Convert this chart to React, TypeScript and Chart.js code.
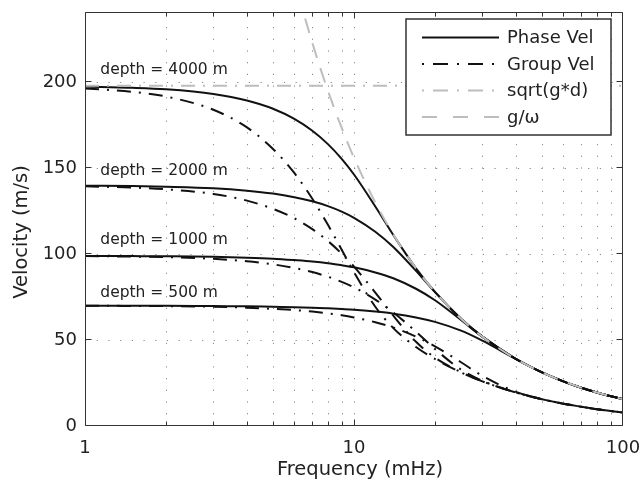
import { useEffect, useRef } from 'react';
import { Chart, registerables } from 'chart.js';

Chart.register(...registerables);

// ---------------- data ----------------
const freqMHz = [1, 1.5, 2, 3, 4, 5, 6, 7, 8, 9, 10, 12, 14, 17, 20, 25, 30, 40, 50, 60, 70, 80, 100];

const phase4000 = [197.6, 196.9, 196.0, 193.3, 189.5, 184.7, 178.8, 171.9, 164.1, 155.5, 146.4, 127.8, 111.2, 91.8, 78.1, 62.4, 52.0, 39.0, 31.2, 26.0, 22.3, 19.5, 15.6];
const group4000 = [196.5, 194.5, 191.8, 184.1, 173.8, 161.3, 147.3, 132.3, 117.1, 102.6, 89.5, 69.4, 57.0, 46.0, 39.0, 31.2, 26.0, 19.5, 15.6, 13.0, 11.2, 9.8, 7.8];
const phase2000 = [139.9, 139.7, 139.3, 138.4, 137.0, 135.3, 133.2, 130.8, 128.0, 124.8, 121.2, 113.1, 104.2, 90.3, 77.9, 62.4, 52.0, 39.0, 31.2, 26.0, 22.3, 19.5, 15.6];
const group2000 = [139.5, 138.8, 137.8, 135.1, 131.2, 126.4, 120.9, 114.6, 107.7, 100.3, 92.8, 77.7, 64.2, 49.0, 39.8, 31.3, 26.0, 19.5, 15.6, 13.0, 11.2, 9.8, 7.8];
const phase1000 = [99.0, 98.9, 98.8, 98.5, 98.0, 97.4, 96.6, 95.8, 94.8, 93.6, 92.4, 89.4, 86.0, 79.9, 73.2, 61.7, 52.0, 39.0, 31.2, 26.0, 22.3, 19.5, 15.6];
const group1000 = [98.9, 98.6, 98.3, 97.3, 95.9, 94.1, 92.0, 89.6, 86.9, 83.9, 80.7, 73.6, 66.1, 54.9, 44.8, 32.8, 26.3, 19.5, 15.6, 13.0, 11.2, 9.8, 7.8];
const phase500 = [70.0, 70.0, 70.0, 69.8, 69.7, 69.4, 69.2, 68.9, 68.5, 68.1, 67.7, 66.6, 65.4, 63.2, 60.6, 55.5, 49.7, 39.0, 31.2, 26.0, 22.3, 19.5, 15.6];
const group500 = [70.0, 69.9, 69.8, 69.4, 68.9, 68.2, 67.5, 66.6, 65.6, 64.5, 63.2, 60.4, 57.3, 52.0, 46.4, 37.1, 29.2, 19.9, 15.6, 13.0, 11.2, 9.8, 7.8];

const gOverOmega = [1561, 1041, 780.7, 520.4, 390.3, 312.2, 260.2, 223.0, 195.2, 173.5, 156.1, 130.1, 111.5, 91.8, 78.1, 62.4, 52.0, 39.0, 31.2, 26.0, 22.3, 19.5, 15.6];

const sqrtGdFreq = [1, 100];
const sqrtGd4000 = [198.1, 198.1];

const xTickValues = [1, 2, 3, 4, 5, 6, 7, 8, 9, 10, 20, 30, 40, 50, 60, 70, 80, 90, 100];
const xTickLabels = [1, 10, 100];
const yTickValues = [0, 50, 100, 150, 200];
const yMin = 0;
const yMax = 241;

const depthLabels = ['depth = 4000 m', 'depth = 2000 m', 'depth = 1000 m', 'depth = 500 m'];
const depthLabelFreq = [1.14, 1.14, 1.14, 1.14];
const depthLabelVel = [205, 146, 106, 75];

const legendLabels = ['Phase Vel', 'Group Vel', 'sqrt(g*d)', 'g/\u03c9'];
const xTitle = 'Frequency (mHz)';
const yTitle = 'Velocity (m/s)';

// ---------------- styles ----------------
const FONT = '"DejaVu Sans", "Liberation Sans", sans-serif';
const BLACK = '#111111';
const GRAY = '#bdbdbd';
const GROUP_DASH = [14, 8, 2, 8];
const SQRT_DASH = [14, 8, 2, 8];
const GW_DASH = [15, 11];

const overlayPlugin = {
  id: 'overlay',
  beforeDatasetsDraw(chart: any) {
    const { ctx, chartArea: a, scales } = chart;
    const xs = scales.x;
    const ys = scales.y;
    ctx.save();
    ctx.strokeStyle = '#8a8a8a';
    ctx.lineWidth = 1;
    ctx.setLineDash([1.2, 10.5]);
    xTickValues.forEach((v) => {
      if (v === xTickValues[0] || v === xTickValues[xTickValues.length - 1]) return;
      const px = Math.round(xs.getPixelForValue(v)) + 0.5;
      ctx.beginPath();
      ctx.moveTo(px, a.bottom);
      ctx.lineTo(px, a.top);
      ctx.stroke();
    });
    yTickValues.forEach((v) => {
      if (v === yMin) return;
      const py = Math.round(ys.getPixelForValue(v)) + 0.5;
      ctx.beginPath();
      ctx.moveTo(a.left, py);
      ctx.lineTo(a.right, py);
      ctx.stroke();
    });
    ctx.restore();
  },
  afterDatasetsDraw(chart: any) {
    const { ctx, chartArea: a, scales } = chart;
    const xs = scales.x;
    const ys = scales.y;
    ctx.save();

    // depth labels
    ctx.fillStyle = '#222';
    ctx.font = `15.5px ${FONT}`;
    ctx.textAlign = 'left';
    ctx.textBaseline = 'alphabetic';
    depthLabels.forEach((t, i) => {
      ctx.fillText(t, xs.getPixelForValue(depthLabelFreq[i]), ys.getPixelForValue(depthLabelVel[i]));
    });

    // legend
    const bw = 205;
    const bh = 116;
    const bx = a.right - 12 - bw;
    const by = a.top + 7;
    ctx.fillStyle = '#ffffff';
    ctx.fillRect(bx, by, bw, bh);
    ctx.strokeStyle = '#333';
    ctx.lineWidth = 1.5;
    ctx.setLineDash([]);
    ctx.strokeRect(bx, by, bw, bh);
    const styles = [
      { c: BLACK, d: [] as number[] },
      { c: BLACK, d: [2, 9, 15, 9] },
      { c: GRAY, d: [2, 9, 15, 9] },
      { c: GRAY, d: [15, 16] },
    ];
    legendLabels.forEach((t, i) => {
      const yy = by + 18.5 + i * 26.5;
      ctx.strokeStyle = styles[i].c;
      ctx.lineWidth = 2;
      ctx.setLineDash(styles[i].d);
      ctx.beginPath();
      ctx.moveTo(bx + 16, yy);
      ctx.lineTo(bx + 93, yy);
      ctx.stroke();
      ctx.setLineDash([]);
      ctx.fillStyle = '#222';
      ctx.font = `18px ${FONT}`;
      ctx.textAlign = 'left';
      ctx.textBaseline = 'middle';
      ctx.fillText(t, bx + 101, yy + 1);
    });

    // axes box
    ctx.setLineDash([]);
    ctx.strokeStyle = '#333';
    ctx.lineWidth = 1;
    const L = Math.round(a.left) + 0.5;
    const T = Math.round(a.top) + 0.5;
    const R = Math.round(a.right) - 0.5;
    const B = Math.round(a.bottom) - 0.5;
    ctx.beginPath();
    ctx.rect(L, T, R - L, B - T);
    ctx.stroke();

    // inner ticks
    xTickValues.forEach((v) => {
      const px = Math.min(R, Math.max(L, Math.round(xs.getPixelForValue(v)) + 0.5));
      const len = xTickLabels.includes(v) ? 6 : 4;
      ctx.beginPath();
      ctx.moveTo(px, B);
      ctx.lineTo(px, B - len);
      ctx.moveTo(px, T);
      ctx.lineTo(px, T + len);
      ctx.stroke();
    });
    yTickValues.forEach((v) => {
      const py = Math.round(ys.getPixelForValue(v)) - 0.5;
      ctx.beginPath();
      ctx.moveTo(L, py);
      ctx.lineTo(L + 6, py);
      ctx.moveTo(R, py);
      ctx.lineTo(R - 6, py);
      ctx.stroke();
    });

    // axis titles
    ctx.fillStyle = '#222';
    ctx.font = `19.5px ${FONT}`;
    ctx.textAlign = 'center';
    ctx.textBaseline = 'alphabetic';
    ctx.fillText(xTitle, (a.left + a.right) / 2 + 6, a.bottom + 49);
    ctx.save();
    ctx.translate(a.left - 58, (a.top + a.bottom) / 2 + 13);
    ctx.rotate(-Math.PI / 2);
    ctx.fillText(yTitle, 0, 0);
    ctx.restore();

    ctx.restore();
  },
};

export default function App() {
  const ref = useRef<HTMLCanvasElement | null>(null);

  useEffect(() => {
    document.body.style.margin = '0';
    const canvas = ref.current;
    if (!canvas) return;
    const pts = (ys: number[]) => freqMHz.map((f, i) => ({ x: f, y: ys[i] }));
    const common = { pointRadius: 0, borderWidth: 2, fill: false, cubicInterpolationMode: 'monotone' as const };

    const phases = [phase4000, phase2000, phase1000, phase500];
    const groups = [group4000, group2000, group1000, group500];

    const datasets: any[] = [
      {
        ...common,
        label: 'g/\u03c9',
        data: pts(gOverOmega),
        borderColor: GRAY,
        borderDash: GW_DASH,
        order: 0,
      },
      {
        ...common,
        label: 'sqrt(g*d)',
        data: sqrtGdFreq.map((f, i) => ({ x: f, y: sqrtGd4000[i] })),
        borderColor: GRAY,
        borderDash: SQRT_DASH,
        order: 1,
      },
    ];
    phases.forEach((p, i) => {
      datasets.push({ ...common, label: `Phase ${i}`, data: pts(p), borderColor: BLACK, order: 2 });
    });
    groups.forEach((g, i) => {
      datasets.push({ ...common, label: `Group ${i}`, data: pts(g), borderColor: BLACK, borderDash: GROUP_DASH, order: 3 });
    });

    const zeroPad = (scale: any) => {
      scale.paddingLeft = 0;
      scale.paddingRight = 0;
      scale.paddingTop = 0;
      scale.paddingBottom = 0;
    };

    const chart = new Chart(canvas, {
      type: 'line',
      data: { datasets },
      options: {
        animation: false,
        responsive: false,
        events: [],
        layout: { padding: { left: 0, right: 19, top: 12, bottom: 0 } },
        plugins: { legend: { display: false }, tooltip: { enabled: false }, title: { display: false } },
        scales: {
          x: {
            type: 'logarithmic',
            min: 1,
            max: 100,
            grid: { display: false, drawTicks: false },
            border: { display: false },
            afterBuildTicks: (scale: any) => {
              scale.ticks = xTickValues.map((v) => ({ value: v }));
            },
            afterFit: (scale: any) => {
              scale.height = 59;
              zeroPad(scale);
            },
            ticks: {
              autoSkip: false,
              maxRotation: 0,
              padding: 12,
              color: '#222',
              font: { family: FONT, size: 18 },
              callback: (v: any) => (xTickLabels.includes(Number(v)) ? String(v) : ''),
            },
          },
          y: {
            type: 'linear',
            min: yMin,
            max: yMax,
            grid: { display: false, drawTicks: false },
            border: { display: false },
            afterBuildTicks: (scale: any) => {
              scale.ticks = yTickValues.map((v) => ({ value: v }));
            },
            afterFit: (scale: any) => {
              scale.width = 85;
              zeroPad(scale);
            },
            ticks: {
              padding: 8,
              color: '#222',
              font: { family: FONT, size: 18 },
              callback: (v: any) => String(v),
            },
          },
        },
      },
      plugins: [overlayPlugin],
    });

    return () => chart.destroy();
  }, []);

  return <canvas ref={ref} width={642} height={485} style={{ display: 'block' }} />;
}
